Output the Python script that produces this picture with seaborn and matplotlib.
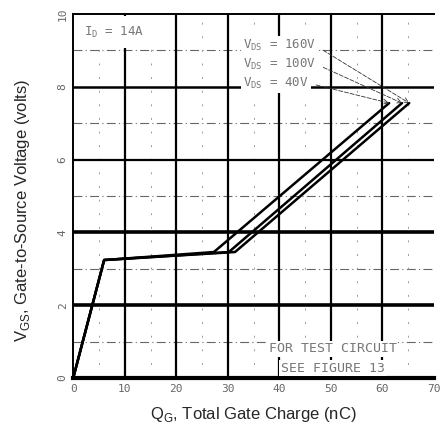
import pandas as pd
import matplotlib
matplotlib.use("Agg")
import matplotlib.pyplot as plt
import seaborn as sns

# gate charge curves, one per drain-source voltage
vds_labels = ["40V", "100V", "160V"]
qg_40 = [0, 6.0, 27.3, 61.3]
vgs_40 = [0, 3.24, 3.46, 7.55]
qg_100 = [0, 6.0, 30.2, 63.8]
vgs_100 = [0, 3.24, 3.46, 7.55]
qg_160 = [0, 6.0, 31.4, 65.2]
vgs_160 = [0, 3.24, 3.46, 7.55]

x_ticks = [0, 10, 20, 30, 40, 50, 60, 70]
y_ticks = [0, 2, 4, 6, 8, 10]

rows = []
for name, qs, vs in zip(vds_labels, [qg_40, qg_100, qg_160], [vgs_40, vgs_100, vgs_160]):
    for q, v in zip(qs, vs):
        rows.append({"VDS": name, "QG": q, "VGS": v})
df = pd.DataFrame(rows)

sns.set_style("white")
plt.rcParams["font.family"] = ["Liberation Sans", "DejaVu Sans"]

fig = plt.figure(figsize=(4.41, 4.34), dpi=100)
ax = fig.add_axes([0.166, 0.129, 0.818, 0.839])

# grid: minor dash-dot, major solid black
for y in [1, 3, 5, 7, 9]:
    ax.axhline(y, color="#666666", lw=0.8, ls=(0, (8, 3, 1, 3)), zorder=1)
for x in [5, 15, 25, 35, 45, 55, 65]:
    ax.axvline(x, color="#999999", lw=0.7, ls=(0, (2, 12)), zorder=1)
for x in [10, 20, 30, 40, 50, 60]:
    ax.axvline(x, color="black", lw=1.6, zorder=1)
for y, w in zip([2, 4, 6, 8], [2.6, 2.6, 1.6, 1.8]):
    ax.axhline(y, color="black", lw=w, zorder=1)

sns.lineplot(data=df, x="QG", y="VGS", hue="VDS", palette=["black"] * 3,
             lw=1.8, legend=False, ax=ax, zorder=3, sort=False)

ax.set_xlim(0, 70)
ax.set_ylim(0, 10)
ax.set_xticks(x_ticks)
ax.set_yticks(y_ticks)
mono = "DejaVu Sans Mono"
ax.set_xticklabels([str(t) for t in x_ticks], fontsize=8, color="#666666", family=mono)
ax.set_yticklabels([str(t) for t in y_ticks], fontsize=8, color="#666666", family=mono,
                   rotation=90, va="center")
ax.tick_params(length=0, pad=4)

for side in ["left", "top"]:
    ax.spines[side].set_color("black")
    ax.spines[side].set_linewidth(1.4)
ax.spines["right"].set_visible(False)
ax.spines["bottom"].set_color("black")
ax.spines["bottom"].set_linewidth(3)

ax.set_xlabel("Q$_\\mathregular{G}$, Total Gate Charge (nC)", fontsize=12, labelpad=8)
ax.set_ylabel("V$_\\mathregular{GS}$, Gate-to-Source Voltage (volts)", fontsize=12)
ax.yaxis.set_label_coords(-0.115, 0.46)

gray = "#777777"
ax.text(2.0, 9.5, "I$_\\mathregular{D}$ = 14A", fontsize=9, color=gray, family=mono, va="center",
        bbox=dict(facecolor="white", edgecolor="none", pad=6), zorder=4)

ends = {"40V": (61.3, 7.55), "100V": (63.8, 7.55), "160V": (65.2, 7.55)}
label_y = {"40V": 8.1, "100V": 8.62, "160V": 9.12}
for name in vds_labels:
    ax.annotate("V$_\\mathregular{DS}$ = " + name, xy=ends[name], xytext=(33.0, label_y[name]),
                fontsize=9, color=gray, family=mono, va="center",
                bbox=dict(facecolor="white", edgecolor="none", pad=1.5),
                arrowprops=dict(arrowstyle="->", color="#333333", lw=0.6, ls=(0, (5, 2)),
                                shrinkA=4, shrinkB=0, relpos=(1.0, 0.5)),
                zorder=4)

ax.text(50.4, 0.8, "FOR TEST CIRCUIT", fontsize=9.5, color=gray, family=mono, ha="center", va="center",
        bbox=dict(facecolor="white", edgecolor="none", pad=1), zorder=4)
ax.text(50.4, 0.27, "SEE FIGURE 13", fontsize=9.5, color=gray, family=mono, ha="center", va="center",
        bbox=dict(facecolor="white", edgecolor="none", pad=1), zorder=4)

fig.savefig("out.png", dpi=100)
